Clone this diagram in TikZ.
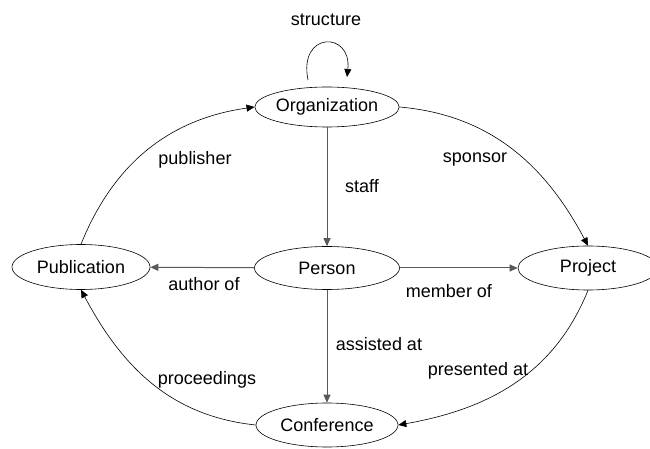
\documentclass[tikz,border=0pt]{standalone}
\usepackage{fontspec}
\setmainfont{Liberation Sans}
\usetikzlibrary{arrows.meta,shapes.geometric}
\begin{document}
\begin{tikzpicture}[x=1bp,y=-1bp,
  ent/.style={ellipse,draw,line width=0.6bp,inner sep=0pt,font=\fontsize{18bp}{20bp}\selectfont},
  lbl/.style={font=\fontsize{18bp}{20bp}\selectfont,inner sep=0pt},
  rel/.style={line width=0.6bp,-{Triangle[length=8bp,width=7bp]}},
  srel/.style={rel,line width=1bp,black!65}]
\useasboundingbox (0,0) rectangle (650,449);
\node[ent,minimum width=143bp,minimum height=40bp] (org) at (327,107) {Organization};
\node[ent,minimum width=145bp,minimum height=43bp] (per) at (327,268) {Person};
\node[ent,minimum width=138bp,minimum height=45bp] (pub) at (81,267) {Publication};
\node[ent,minimum width=140bp,minimum height=44bp] (pro) at (588,268) {Project};
\node[ent,minimum width=142bp,minimum height=44bp] (con) at (327,425) {Conference};
\coordinate (ls) at (308,80);
\coordinate (le) at (347,77);
\draw[rel] (ls) .. controls (298,31) and (352,31) .. (le);
\draw[srel] (org) -- (per);
\draw[srel] (per) -- (pub);
\draw[srel] (per) -- (pro);
\draw[srel] (per) -- (con);
\draw[rel] (org.east) to[out=-5,in=118] (pro.north);
\draw[rel] (pub.north) to[out=68,in=188] (org.west);
\draw[rel] (pro.south) to[out=-112,in=10] (con.east);
\draw[rel] (con.west) to[out=174,in=-62] (pub.south);
\node[lbl] (t1) at (326,20) {structure};
\node[lbl] (t2) at (195,160) {publisher};
\node[lbl] (t3) at (475,160) {sponsor};
\node[lbl] (t4) at (362,186) {staff};
\node[lbl] (t5) at (204,284) {author of};
\node[lbl] (t6) at (449,291) {member of};
\node[lbl] (t7) at (379,344) {assisted at};
\node[lbl] (t8) at (207,380) {proceedings};
\node[lbl] (t9) at (478,371) {presented at};
\end{tikzpicture}
\end{document}
